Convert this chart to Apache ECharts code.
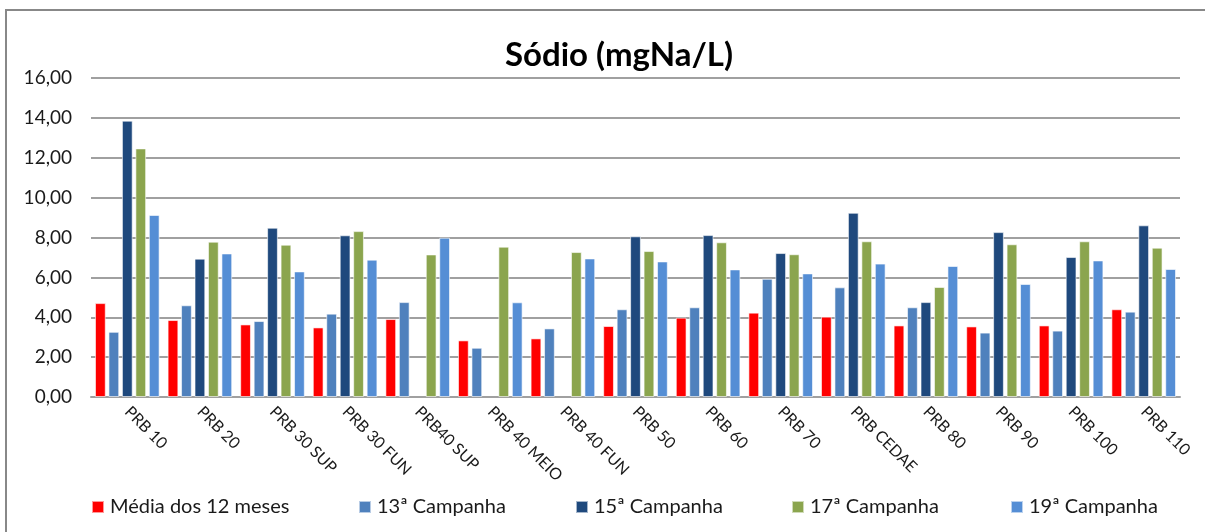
<!DOCTYPE html>
<html>
<head>
<meta charset="utf-8">
<script src="https://cdn.jsdelivr.net/npm/echarts@6/dist/echarts.min.js"></script>
<style>
  html, body { margin: 0; padding: 0; background: #fff; }
  #chart { width: 1205px; height: 532px; }
</style>
</head>
<body>
<div id="chart"></div>
<script>
// pontos de coleta
const pontos = ['PRB 10', 'PRB 20', 'PRB 30 SUP', 'PRB 30 FUN', 'PRB40 SUP', 'PRB 40 MEIO', 'PRB 40 FUN',
    'PRB 50', 'PRB 60', 'PRB 70', 'PRB CEDAE', 'PRB 80', 'PRB 90', 'PRB 100', 'PRB 110'];

// valores (mgNa/L)
const media12 = [4.71, 3.86, 3.64, 3.49, 3.91, 2.84, 2.94, 3.56, 3.98, 4.23, 4.03, 3.59, 3.54, 3.59, 4.40];
const camp13 = [3.27, 4.60, 3.81, 4.18, 4.76, 2.47, 3.44, 4.40, 4.50, 5.93, 5.50, 4.50, 3.23, 3.33, 4.28];
const camp15 = [13.86, 6.94, 8.49, 8.11, null, null, null, 8.06, 8.12, 7.22, 9.24, 4.76, 8.27, 7.02, 8.61];
const camp17 = [12.47, 7.79, 7.64, 8.32, 7.15, 7.54, 7.27, 7.32, 7.76, 7.16, 7.81, 5.52, 7.66, 7.81, 7.49];
const camp19 = [9.13, 7.20, 6.30, 6.89, 7.99, 4.75, 6.95, 6.80, 6.40, 6.20, 6.69, 6.57, 5.67, 6.85, 6.42];

const nomes = ['Média dos 12 meses', '13ª Campanha', '15ª Campanha', '17ª Campanha', '19ª Campanha'];
const cores = ['#ff0000', '#4f81bd', '#1f497d', '#8ba54e', '#558ed5'];
const valores = [media12, camp13, camp15, camp17, camp19];

const FONTE = 'Lato, "Open Sans", sans-serif';

const chart = echarts.init(document.getElementById('chart'), null, { renderer: 'canvas' });

// posição de cada item da legenda (como no Excel)
const legendaLeft = [86, 353, 570, 786, 1005];

const option = {
    animation: false,
    backgroundColor: '#fff',
    title: {
        text: 'Sódio (mgNa/L)',
        left: 614,
        top: 34,
        textAlign: 'center',
        textStyle: {
            fontFamily: FONTE,
            fontWeight: 'bold',
            fontSize: 33,
            color: '#000'
        }
    },
    graphic: [{
        type: 'rect',
        shape: { x: 6, y: 10, width: 1230, height: 560 },
        style: { fill: 'none', stroke: '#888', lineWidth: 2 },
        silent: true
    }],
    legend: nomes.map((n, i) => ({
        data: [n],
        left: legendaLeft[i],
        top: 492,
        itemWidth: 12,
        itemHeight: 12,
        icon: 'rect',
        itemGap: 0,
        textStyle: {
            fontFamily: FONTE,
            fontSize: 20,
            color: '#1a1a1a',
            padding: [0, 0, 0, 1]
        }
    })),
    grid: {
        left: 91,
        right: 25,
        top: 78,
        bottom: 135,
        containLabel: false
    },
    xAxis: {
        type: 'category',
        data: pontos,
        axisTick: { show: false },
        axisLine: { lineStyle: { color: '#a0a0a0', width: 2 } },
        axisLabel: {
            rotate: -45,
            margin: 12,
            interval: 0,
            fontFamily: FONTE,
            fontSize: 16,
            color: '#1a1a1a'
        }
    },
    yAxis: {
        type: 'value',
        min: 0,
        max: 16,
        interval: 2,
        axisLine: { show: false },
        axisTick: { show: false },
        splitLine: { lineStyle: { color: '#a0a0a0', width: 2 } },
        axisLabel: {
            margin: 19,
            fontFamily: FONTE,
            fontSize: 19,
            color: '#1a1a1a',
            formatter: v => v.toFixed(2).replace('.', ',')
        }
    },
    series: nomes.map((n, i) => ({
        name: n,
        type: 'bar',
        data: valores[i],
        barGap: '25%',
        barCategoryGap: '11%',
        itemStyle: {
            color: cores[i],
            borderColor: 'rgba(255,255,255,0.6)',
            borderWidth: 1
        }
    }))
};

chart.setOption(option);
</script>
</body>
</html>
